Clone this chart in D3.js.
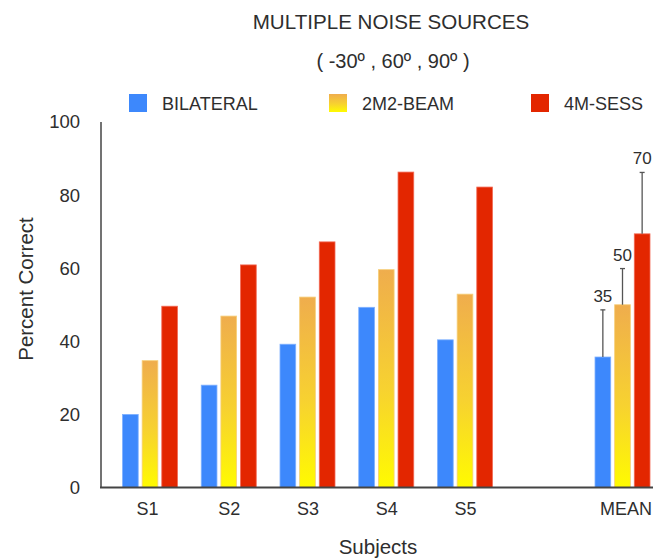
<!DOCTYPE html>
<html><head><meta charset="utf-8">
<script src="https://cdn.jsdelivr.net/npm/d3@7"></script>
<style>
html,body{margin:0;padding:0;background:#fff;}
text{font-family:"Liberation Sans",Arial,Helvetica,sans-serif;fill:#2e2e2e;}
</style></head>
<body>
<svg id="chart" width="662" height="560"></svg>
<script>
const categories = ["S1","S2","S3","S4","S5","","MEAN"];
const series = ["BILATERAL","2M2-BEAM","4M-SESS"];
const bilateral = [20, 28, 39.2, 49.3, 40.4, null, 35.7];
const beam = [34.7, 46.9, 52.1, 59.6, 52.9, null, 50];
const sess = [49.6, 60.9, 67.2, 86.3, 82.2, null, 69.4];
const meanErrorTop = [48.6, 59.9, 86.2];
const meanLabels = ["35","50","70"];
const yTicks = [0,20,40,60,80,100];
const title = "MULTIPLE NOISE SOURCES";
const subtitle = "( -30º , 60º , 90º )";

const svg = d3.select("#chart");
const defs = svg.append("defs");
const grad = defs.append("linearGradient").attr("id","yg")
  .attr("x1",0).attr("y1",0).attr("x2",0).attr("y2",1);
grad.append("stop").attr("offset","0%").attr("stop-color","#efad4d");
grad.append("stop").attr("offset","55%").attr("stop-color","#f7d230");
grad.append("stop").attr("offset","100%").attr("stop-color","#fffb00");

const colors = ["#3d88fc","url(#yg)","#e32600"];
const edges = ["#7fb1ff","#f6cf7a","#f26a55"];

const x = d3.scalePoint().domain(categories).range([150,622.5]);
const xs = d3.scaleBand().domain(series).range([-27.5,27.5]).paddingInner(0.2);
const y = d3.scaleLinear().domain([0,100]).range([487.5,122]);

// title
svg.append("text").attr("x",391).attr("y",28.5).attr("text-anchor","middle")
  .style("font-size","20.6px").text(title);
svg.append("text").attr("x",393).attr("y",68).attr("text-anchor","middle")
  .style("font-size","20px").text(subtitle);

// legend
const legX = [129,329,531];
series.forEach((s,i)=>{
  svg.append("rect").attr("x",legX[i]).attr("y",94).attr("width",18).attr("height",18)
    .attr("fill",colors[i]);
  svg.append("text").attr("x",legX[i]+33).attr("y",109.5).style("font-size","18px").text(s);
});

// axes
const yAxis = d3.axisLeft(y).tickValues(yTicks).tickSize(0).tickPadding(21);
const gy = svg.append("g").attr("transform","translate(101,0)").call(yAxis);
gy.select(".domain").remove();
gy.selectAll("text").style("font-size","18.5px").style("fill","#2e2e2e").style("font-family","'Liberation Sans',Arial,sans-serif");

const xAxis = d3.axisBottom(x).tickSize(0).tickPadding(15);
const gx = svg.append("g").attr("transform","translate(0,"+y(0)+")").call(xAxis);
gx.select(".domain").remove();
gx.selectAll("text").style("font-size","18px").style("fill","#2e2e2e").style("font-family","'Liberation Sans',Arial,sans-serif");
gx.selectAll(".tick").filter(d=>d==="MEAN").select("text").attr("dx",3);
gx.selectAll(".tick").filter(d=>d==="S1").select("text").attr("dx",-3);

// bars
const data = [bilateral, beam, sess];
data.forEach((vals,si)=>{
  svg.append("g").selectAll("rect")
    .data(categories.map((c,i)=>({c,v:vals[i]})).filter(d=>d.v!=null))
    .join("rect")
    .attr("x",d=>x(d.c)+xs(series[si]))
    .attr("y",d=>y(d.v))
    .attr("width",xs.bandwidth())
    .attr("height",d=>y(0)-y(d.v))
    .attr("fill",colors[si])
    .attr("stroke",edges[si]).attr("stroke-width",0.8);
});

// axis lines
svg.append("line").attr("x1",101).attr("x2",101).attr("y1",y(100)).attr("y2",y(0))
  .attr("stroke","#444").attr("stroke-width",1.5);
svg.append("line").attr("x1",100).attr("x2",653).attr("y1",y(0)).attr("y2",y(0))
  .attr("stroke","#444").attr("stroke-width",2);

// error bars on MEAN
const meanIdx = categories.indexOf("MEAN");
series.forEach((s,si)=>{
  const cx = x("MEAN")+xs(s)+xs.bandwidth()/2;
  const v = data[si][meanIdx];
  const top = meanErrorTop[si];
  svg.append("line").attr("x1",cx).attr("x2",cx).attr("y1",y(v)).attr("y2",y(top))
    .attr("stroke","#555").attr("stroke-width",1.3);
  svg.append("line").attr("x1",cx-2.5).attr("x2",cx+2.5).attr("y1",y(top)).attr("y2",y(top))
    .attr("stroke","#555").attr("stroke-width",1.3);
  svg.append("text").attr("x",cx).attr("y",y(top)-8).attr("text-anchor","middle")
    .style("font-size","17px").text(meanLabels[si]);
});

// axis titles
svg.append("text").attr("transform","translate(33,289) rotate(-90)").attr("text-anchor","middle")
  .style("font-size","20.5px").text("Percent Correct");
svg.append("text").attr("x",378).attr("y",554).attr("text-anchor","middle")
  .style("font-size","20.5px").text("Subjects");
</script>
</body></html>
